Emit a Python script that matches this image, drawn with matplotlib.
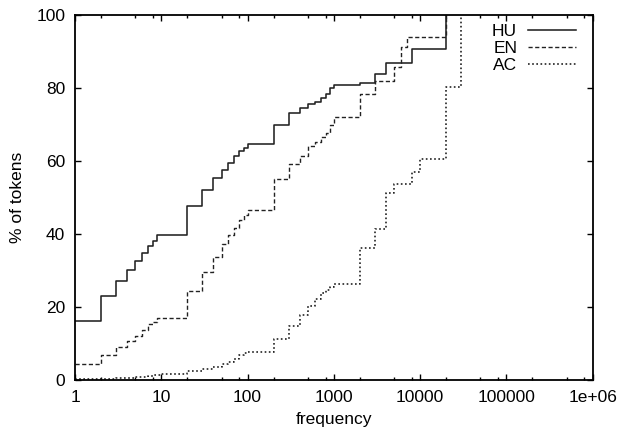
import matplotlib
matplotlib.use("Agg")
import matplotlib.pyplot as plt
from matplotlib.ticker import FixedLocator, NullFormatter

plt.rcParams["font.family"] = ["Liberation Sans", "DejaVu Sans"]

# cumulative % of tokens by frequency (step curves)
hu_freq = [1, 2, 3, 4, 5, 6, 7, 8, 9, 20, 30, 40, 50, 60, 70, 80, 90, 100,
           200, 300, 400, 500, 600, 700, 800, 900, 1000, 2000, 3000, 4000, 8000, 20000]
hu_pct = [16.2, 23.0, 27.2, 30.2, 32.7, 34.7, 36.7, 38.2, 39.7, 47.8, 52.2, 55.4,
          57.6, 59.6, 61.4, 62.8, 63.7, 64.8, 70.0, 73.3, 74.6, 75.6, 76.3, 77.2,
          78.5, 80.1, 80.8, 81.4, 84.0, 87.0, 90.6, 100]

en_freq = [1, 2, 3, 4, 5, 6, 7, 8, 9, 20, 30, 40, 50, 60, 70, 80, 90, 100,
           200, 300, 400, 500, 600, 700, 800, 900, 1000, 2000, 3000, 5000, 6000, 7000, 20000]
en_pct = [4.3, 6.9, 9.0, 10.8, 12.1, 13.7, 15.3, 16.0, 17.1, 24.5, 29.7, 33.8,
          37.2, 39.7, 41.6, 43.8, 45.2, 46.6, 55.0, 59.2, 61.4, 64.1, 65.3, 66.5,
          67.8, 69.9, 72.2, 78.5, 82.0, 85.9, 91.4, 94.0, 100]

ac_freq = [1, 2, 3, 4, 5, 6, 7, 8, 9, 10, 20, 30, 40, 50, 60, 70, 80, 90, 100,
           200, 300, 400, 500, 600, 700, 800, 900, 1000, 2000, 3000, 4000, 5000,
           8000, 10000, 20000, 30000]
ac_pct = [0.2, 0.4, 0.55, 0.7, 0.85, 1.0, 1.15, 1.3, 1.45, 1.7, 2.5, 3.0, 3.7,
          4.3, 5.0, 5.7, 6.8, 7.5, 7.8, 11.2, 14.8, 17.8, 20.3, 22.1, 23.9, 24.8,
          25.5, 26.3, 36.1, 41.4, 51.3, 53.6, 57.1, 60.7, 80.3, 100]

x_major = [1, 10, 100, 1000, 10000, 100000, 1000000]
x_labels = ["1", "10", "100", "1000", "10000", "100000", "1e+06"]
y_major = [0, 20, 40, 60, 80, 100]

fig = plt.figure(figsize=(6.2, 4.32), dpi=100)
ax = fig.add_axes([0.121, 0.120, 0.835, 0.845])

line_col = "#222222"
ax.step(hu_freq, hu_pct, where="post", color=line_col, lw=1.15, label="HU")
ax.step(en_freq, en_pct, where="post", color=line_col, lw=1.0,
        dashes=(3.0, 1.8), label="EN")
ax.step(ac_freq, ac_pct, where="post", color=line_col, lw=1.2,
        dashes=(1.0, 1.5), label="AC")

ax.set_xscale("log")
ax.set_xlim(1, 1e6)
ax.set_ylim(0, 100)

ax.xaxis.set_major_locator(FixedLocator(x_major))
ax.set_xticklabels(x_labels)
minors = [m * d for d in x_major[:-1] for m in (2, 5, 8)]
ax.xaxis.set_minor_locator(FixedLocator(minors))
ax.xaxis.set_minor_formatter(NullFormatter())
ax.yaxis.set_major_locator(FixedLocator(y_major))

ax.tick_params(which="both", direction="in", top=True, right=True,
               labelsize=12.5, colors="black", pad=7)
ax.tick_params(which="major", length=4.5, width=1.0)
ax.tick_params(which="minor", length=2.3, width=1.0)
for s in ax.spines.values():
    s.set_linewidth(1.3)

ax.set_xlabel("frequency", fontsize=12.5, labelpad=5)
ax.set_ylabel("% of tokens", fontsize=12.5, labelpad=8)

ax.legend(loc="upper right", frameon=False, markerfirst=False, fontsize=12.5,
          handlelength=2.8, handletextpad=0.6, labelspacing=0.12,
          borderaxespad=0.1, bbox_to_anchor=(0.985, 1.0))

fig.savefig("out.png", dpi=100)
